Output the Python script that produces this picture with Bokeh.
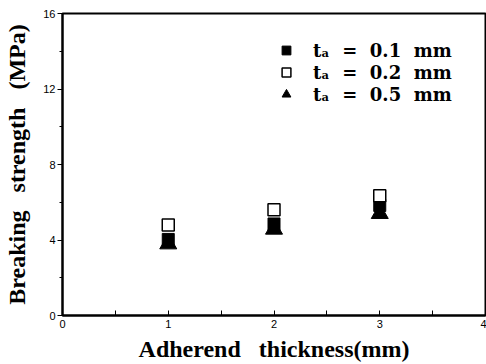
from bokeh.plotting import figure
from bokeh.models import FixedTicker, Range1d, Legend, LegendItem, ColumnDataSource
from bokeh.embed import file_html
from bokeh.resources import INLINE

# Data
thickness = [1, 2, 3]
strength_01 = [4.03, 4.85, 5.83]   # t_a = 0.1 mm (filled square)
strength_02 = [4.80, 5.60, 6.34]   # t_a = 0.2 mm (open square)
strength_05 = [3.79, 4.57, 5.40]   # t_a = 0.5 mm (filled triangle)
NB = "\u00a0"
labels = ["t\u2090" + NB + " =" + NB + " 0.1" + NB + " mm",
          "t\u2090" + NB + " =" + NB + " 0.2" + NB + " mm",
          "t\u2090" + NB + " =" + NB + " 0.5" + NB + " mm"]
x_ticks = [0, 1, 2, 3, 4]
x_minor = [0.5, 1.5, 2.5, 3.5]
y_ticks = [0, 4, 8, 12, 16]
y_minor = [2, 6, 10, 14]

p = figure(width=486, height=364, output_backend="svg", toolbar_location=None,
           x_range=Range1d(0, 4), y_range=Range1d(0, 16),
           min_border_left=62, min_border_right=1, min_border_top=13, min_border_bottom=49)

p.xgrid.visible = False
p.ygrid.visible = False
p.outline_line_color = "black"
p.outline_line_width = 2
p.background_fill_color = "white"
p.border_fill_color = "white"

src = ColumnDataSource(dict(x=thickness, a=strength_01, b=strength_02, c=strength_05))
r_c = p.scatter("x", "c", source=src, marker="triangle", size=17, fill_color="black", line_color="black")
r_a = p.scatter("x", "a", source=src, marker="square", size=12, fill_color="black", line_color="black")
r_b = p.scatter("x", "b", source=src, marker="square", size=12, fill_color="white", line_color="black", line_width=1.5)

# Axes
p.xaxis.ticker = FixedTicker(ticks=x_ticks, minor_ticks=x_minor)
p.yaxis.ticker = FixedTicker(ticks=y_ticks, minor_ticks=y_minor)
for ax in (p.xaxis[0], p.yaxis[0]):
    ax.axis_line_width = 2
    ax.axis_line_color = "black"
    ax.major_tick_line_color = "black"
    ax.minor_tick_line_color = "black"
    ax.major_label_text_font = "Liberation Sans"
    ax.major_label_text_font_size = "11px"
    ax.major_label_text_color = "black"
    ax.axis_label_text_font = "Liberation Serif"
    ax.axis_label_text_font_style = "bold"
    ax.axis_label_text_font_size = "24px"
    ax.axis_label_text_color = "black"

p.xaxis.major_tick_in = 5
p.xaxis.major_tick_out = 0
p.xaxis.minor_tick_in = 5
p.xaxis.minor_tick_out = 0
p.xaxis.major_label_standoff = 4
p.xaxis.axis_label = "Adherend" + NB + NB + " thickness(mm)"
p.xaxis.axis_label_standoff = 5

p.yaxis.major_tick_in = 0
p.yaxis.major_tick_out = 5
p.yaxis.minor_tick_in = 0
p.yaxis.minor_tick_out = 3
p.yaxis.major_label_standoff = 2
p.yaxis.axis_label = "Breaking" + NB + NB + " strength" + NB + NB + " (MPa)"
p.yaxis.axis_label_standoff = 10

legend = Legend(items=[LegendItem(label=labels[0], renderers=[r_a]),
                       LegendItem(label=labels[1], renderers=[r_b]),
                       LegendItem(label=labels[2], renderers=[r_c])],
                location=(209, 210), padding=0, spacing=0, margin=0,
                glyph_width=30, glyph_height=22, label_height=22, label_standoff=12,
                border_line_color=None, background_fill_alpha=0,
                label_text_font="DejaVu Serif", label_text_font_style="bold",
                label_text_font_size="18px", label_text_color="black")
p.add_layout(legend)

open("out.html", "w").write(file_html(p, INLINE))
